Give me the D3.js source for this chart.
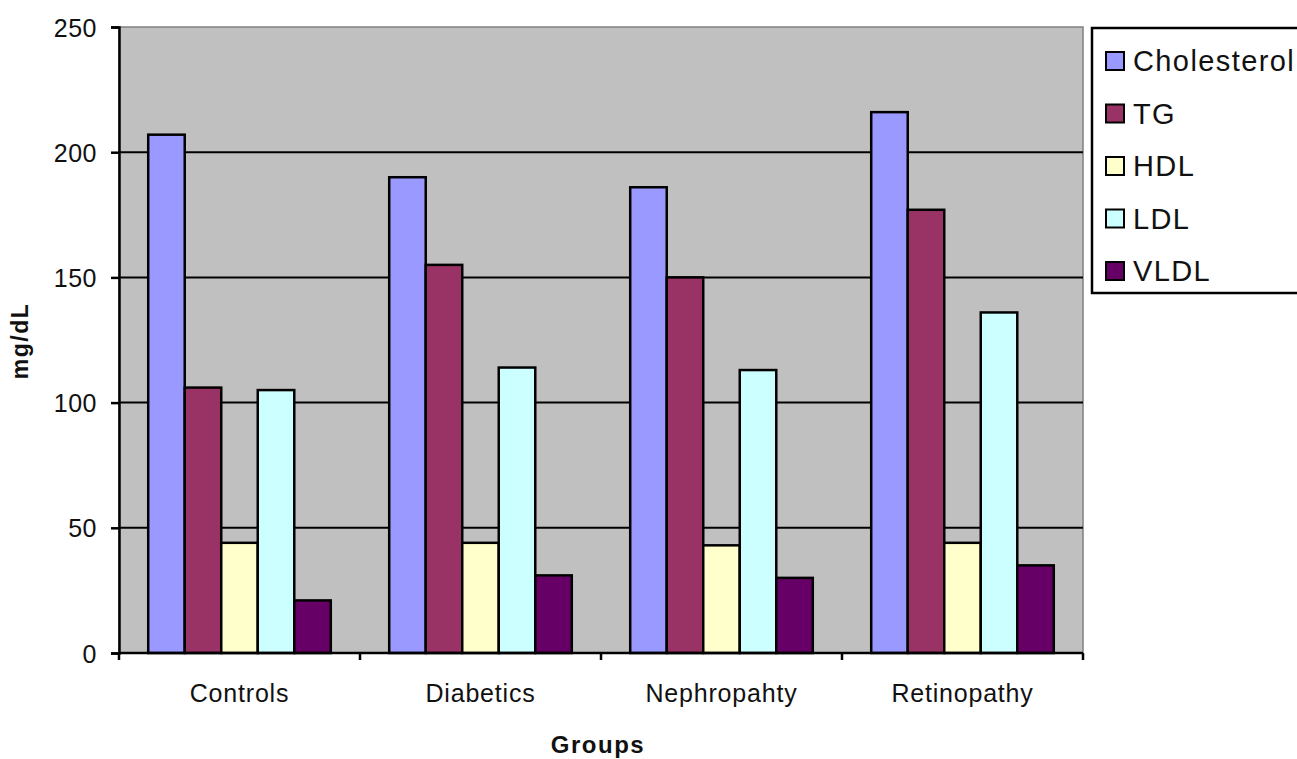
<!DOCTYPE html>
<html>
<head>
<meta charset="utf-8">
<script src="https://cdn.jsdelivr.net/npm/d3@7"></script>
<style>
  html, body { margin: 0; padding: 0; background: #fff; }
  svg { display: block; font-family: "Liberation Sans", Arial, sans-serif; }
</style>
</head>
<body>
<svg id="chart" width="1297" height="759"></svg>
<script>
// Lipid profile by patient group (mg/dL)
const groups = ["Controls", "Diabetics", "Nephropahty", "Retinopathy"];
const seriesNames = ["Cholesterol", "TG", "HDL", "LDL", "VLDL"];
const cholesterol = [207, 190, 186, 216];
const tg = [106, 155, 150, 177];
const hdl = [44, 44, 43, 44];
const ldl = [105, 114, 113, 136];
const vldl = [21, 31, 30, 35];
const seriesColors = ["#9999ff", "#993366", "#ffffcc", "#ccffff", "#660066"];
const yTicks = [0, 50, 100, 150, 200, 250];

const seriesValues = [cholesterol, tg, hdl, ldl, vldl];
const rows = groups.map((g, i) => ({
  group: g,
  values: seriesNames.map((s, j) => ({ series: s, value: seriesValues[j][i] }))
}));

const svg = d3.select("#chart");
const plot = { left: 119, top: 27, right: 1083, bottom: 653 };

const x = d3.scaleBand().domain(groups).range([plot.left, plot.right]).paddingInner(0).paddingOuter(0);
const xInner = d3.scaleBand().domain(seriesNames).range([0, x.bandwidth()]).paddingInner(0).paddingOuter(0.8);
const y = d3.scaleLinear().domain([0, 250]).range([plot.bottom, plot.top]);
const color = d3.scaleOrdinal().domain(seriesNames).range(seriesColors);

// plot background
svg.append("rect")
  .attr("x", plot.left).attr("y", plot.top)
  .attr("width", plot.right - plot.left).attr("height", plot.bottom - plot.top)
  .attr("fill", "#c0c0c0").attr("stroke", "#808080").attr("stroke-width", 1.5);

// gridlines
svg.append("g").selectAll("line")
  .data(yTicks.filter(t => t > 0 && t < 250))
  .join("line")
  .attr("x1", plot.left).attr("x2", plot.right)
  .attr("y1", d => y(d)).attr("y2", d => y(d))
  .attr("stroke", "#000").attr("stroke-width", 2);

// bars
svg.append("g").selectAll("g")
  .data(rows)
  .join("g")
  .attr("transform", d => `translate(${x(d.group)},0)`)
  .selectAll("rect")
  .data(d => d.values)
  .join("rect")
  .attr("x", d => xInner(d.series))
  .attr("y", d => y(d.value))
  .attr("width", xInner.bandwidth())
  .attr("height", d => y(0) - y(d.value))
  .attr("fill", d => color(d.series))
  .attr("stroke", "#000").attr("stroke-width", 2.5);

// y axis
const yAxis = svg.append("g")
  .attr("transform", `translate(${plot.left},0)`)
  .call(d3.axisLeft(y).tickValues(yTicks).tickSize(8).tickPadding(14));
yAxis.select(".domain").attr("stroke", "#000").attr("stroke-width", 2.5);
yAxis.selectAll(".tick line").attr("stroke", "#000").attr("stroke-width", 2.5);
yAxis.selectAll(".tick text")
  .attr("font-size", 25).attr("fill", "#111")
  .attr("font-family", "'Liberation Sans', Arial, sans-serif")
  .attr("letter-spacing", 0.5)
  .attr("dy", "0.36em");

// x axis with ticks at band boundaries
const xAxis = svg.append("g").attr("transform", `translate(0,${plot.bottom})`);
xAxis.append("line")
  .attr("x1", plot.left).attr("x2", plot.right)
  .attr("stroke", "#000").attr("stroke-width", 2.5);
const boundaries = groups.map(g => x(g)).concat([x(groups[groups.length - 1]) + x.bandwidth()]);
xAxis.selectAll("line.tk")
  .data(boundaries)
  .join("line").attr("class", "tk")
  .attr("x1", d => d).attr("x2", d => d)
  .attr("y1", 0).attr("y2", 7)
  .attr("stroke", "#000").attr("stroke-width", 2.5);
xAxis.selectAll("text")
  .data(groups)
  .join("text")
  .attr("x", d => x(d) + x.bandwidth() / 2)
  .attr("y", 49)
  .attr("text-anchor", "middle")
  .attr("font-size", 25).attr("letter-spacing", 0.8)
  .attr("fill", "#111")
  .text(d => d);

// axis titles
svg.append("text")
  .attr("x", 598).attr("y", 753)
  .attr("text-anchor", "middle")
  .attr("font-size", 24).attr("font-weight", "bold").attr("letter-spacing", 1.5)
  .attr("fill", "#111")
  .text("Groups");
svg.append("text")
  .attr("transform", "translate(28,341) rotate(-90)")
  .attr("text-anchor", "middle")
  .attr("font-size", 23).attr("font-weight", "bold").attr("letter-spacing", 1.5)
  .attr("fill", "#111")
  .text("mg/dL");

// legend
const legend = svg.append("g");
legend.append("rect")
  .attr("x", 1092).attr("y", 28).attr("width", 240).attr("height", 265)
  .attr("fill", "#fff").attr("stroke", "#000").attr("stroke-width", 2.5);
const legendY = d3.scalePoint().domain(seriesNames).range([61, 271]);
const item = legend.selectAll("g.item")
  .data(seriesNames)
  .join("g").attr("class", "item")
  .attr("transform", d => `translate(0,${legendY(d)})`);
item.append("rect")
  .attr("x", 1106).attr("y", -9).attr("width", 18).attr("height", 18)
  .attr("fill", d => color(d)).attr("stroke", "#000").attr("stroke-width", 2);
item.append("text")
  .attr("x", 1133).attr("y", 0).attr("dy", "0.36em")
  .attr("font-size", 29).attr("letter-spacing", 1.4)
  .attr("fill", "#111")
  .text(d => d);
</script>
</body>
</html>
